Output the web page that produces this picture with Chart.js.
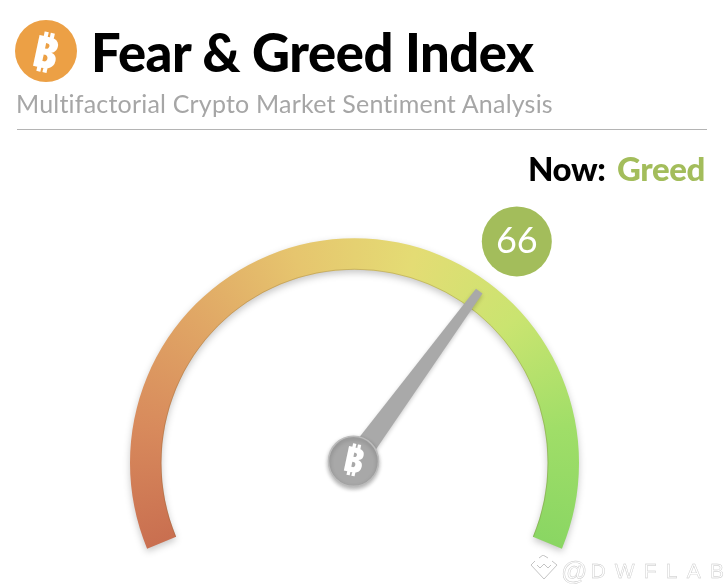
<!DOCTYPE html>
<html>
<head>
<meta charset="utf-8">
<title>Fear & Greed Index</title>
<script src="https://cdn.jsdelivr.net/npm/chart.js@4/dist/chart.umd.min.js"></script>
<style>
  html, body { margin: 0; padding: 0; background: #fff; }
  #page { position: relative; width: 726px; height: 588px; overflow: hidden; font-family: Lato, sans-serif; }
  #page canvas { position: absolute; left: 0; top: 0; }
  .txt { position: absolute; white-space: nowrap; line-height: 1; }
  #logo { position: absolute; left: 15px; top: 20px; width: 62px; height: 62px; border-radius: 50%; background: #eca045; }
  #logoB { position: absolute; left: 0; top: 0; width: 62px; height: 62px; line-height: 62px; text-align: center;
           color: #fff; font: 900 44px/62px "Noto Sans", sans-serif; transform: rotate(12deg); }
  #title { left: 91px; top: 26px; font-size: 52.5px; font-weight: 900; color: #000; letter-spacing: -0.45px; }
  #subtitle { left: 16px; top: 91px; font-size: 25px; color: #a6a6a6; letter-spacing: 0.2px; }
  #rule { position: absolute; left: 17px; top: 129px; width: 690px; height: 1px; background: #b4b4b4; }
  #now { left: 528px; top: 152px; font-size: 33px; font-weight: 900; color: #000; letter-spacing: -0.4px; }
  #state { left: 617px; top: 152px; font-size: 33px; font-weight: 900; color: #a3bd5b; letter-spacing: -0.4px; }
  #mark { left: 561px; top: 556px; font: 21px "Liberation Sans", sans-serif; color: #fff; letter-spacing: 9.2px;
          -webkit-text-stroke: 0.4px #c4c4c4; }
  #mark span { font-size: 26px; letter-spacing: 3px; vertical-align: -2px; }
  #markIcon { position: absolute; left: 530px; top: 555px; }
</style>
</head>
<body>
<div id="page">
  <canvas id="gauge" width="726" height="588"></canvas>
  <div id="logo"><div id="logoB">₿</div></div>
  <div class="txt" id="title">Fear &amp; Greed Index</div>
  <div class="txt" id="subtitle">Multifactorial Crypto Market Sentiment Analysis</div>
  <div id="rule"></div>
  <div class="txt" id="now">Now:</div>
  <div class="txt" id="state">Greed</div>
  <svg id="markIcon" width="28" height="26" fill="none" stroke="#c4c4c4" stroke-width="1">
    <path d="M1 10 L5 6 M9 3 L13 0 L18 3 M22 6 L27 10 L14 24 L1 10"/>
    <path d="M7 10 L10 13 L14 9 L18 13 L21 10"/>
  </svg>
  <div class="txt" id="mark"><span>@</span>DWFLAB</div>
</div>
<script>
var scaleRange = [100];
var indexValues = [66, 34];
var nowState = 'Greed';

// colours round the band, from the red end to the green end
var bandColors = ['#c96f50', '#d88a5c', '#e0a665', '#e6c56e', '#e4dc74', '#cae470', '#a0de68', '#8ad663'];

var START_DEG = -112.5;
var SWEEP_DEG = 225;

function toRad(d) { return d * Math.PI / 180; }

// the band is one arc, filled with a conic gradient and a soft shadow
var bandPaint = {
    id: 'bandPaint',
    beforeDatasetsDraw: function(chart) {
        var arc = chart.getDatasetMeta(0).data[0];
        var ctx = chart.ctx;
        var start = toRad(START_DEG - 90);
        var grad = ctx.createConicGradient(start, arc.x, arc.y);
        bandColors.forEach(function(c, i) {
            grad.addColorStop(i / (bandColors.length - 1) * SWEEP_DEG / 360, c);
        });
        grad.addColorStop(SWEEP_DEG / 360 + 0.001, bandColors[0]);
        arc.options.backgroundColor = grad;
        ctx.shadowColor = 'rgba(0,0,0,0.22)';
        ctx.shadowBlur = 7;
        ctx.shadowOffsetY = 3;
    },
    afterDatasetsDraw: function(chart) {
        var ctx = chart.ctx;
        ctx.shadowColor = 'transparent';
        ctx.shadowBlur = 0;
        ctx.shadowOffsetY = 0;

        var band = chart.getDatasetMeta(0).data[0];
        var value = chart.getDatasetMeta(1).data[0];
        var a = value.endAngle;
        var ux = Math.cos(a), uy = Math.sin(a);
        var px = -uy, py = ux;
        var x = band.x, y = band.y;
        var R = band.outerRadius;

        // inner edge of the band
        ctx.lineWidth = 1;
        ctx.strokeStyle = 'rgba(120,90,40,0.25)';
        ctx.beginPath();
        ctx.arc(x, y, band.innerRadius + 0.5, band.startAngle, band.endAngle);
        ctx.stroke();

        // needle
        var tip = R * 0.945;
        var hubY = y - 1.5;
        ctx.save();
        ctx.shadowColor = 'rgba(0,0,0,0.2)';
        ctx.shadowBlur = 4;
        ctx.shadowOffsetY = 2;
        ctx.fillStyle = '#a9a9a9';
        ctx.beginPath();
        ctx.moveTo(x + px * 11, hubY + py * 11);
        ctx.lineTo(x + ux * tip + px * 4, y + uy * tip + py * 4);
        ctx.lineTo(x + ux * tip - px * 4, y + uy * tip - py * 4);
        ctx.lineTo(x - px * 11, hubY - py * 11);
        ctx.closePath();
        ctx.fill();
        ctx.restore();

        // hub
        ctx.save();
        ctx.shadowColor = 'rgba(0,0,0,0.3)';
        ctx.shadowBlur = 4;
        ctx.shadowOffsetY = 2;
        ctx.fillStyle = '#a8a8a8';
        ctx.strokeStyle = '#bcbcbc';
        ctx.lineWidth = 1.5;
        ctx.beginPath();
        ctx.arc(x - 1, hubY, 25, 0, Math.PI * 2);
        ctx.fill();
        ctx.stroke();
        ctx.restore();
        ctx.save();
        ctx.translate(x - 1, hubY);
        ctx.rotate(toRad(12));
        ctx.fillStyle = '#fff';
        ctx.font = '900 35px "Noto Sans", sans-serif';
        ctx.textAlign = 'center';
        ctx.textBaseline = 'middle';
        ctx.fillText('₿', 0, 1);
        ctx.restore();

        // value bubble, out along the needle
        var bx = x + ux * R * 1.23, by = y + uy * R * 1.23 + 2;
        ctx.fillStyle = '#a3bd5b';
        ctx.beginPath();
        ctx.arc(bx, by, 35, 0, Math.PI * 2);
        ctx.fill();
        ctx.fillStyle = '#fff';
        ctx.font = '36px Lato, sans-serif';
        ctx.textAlign = 'center';
        ctx.textBaseline = 'middle';
        ctx.fillText(String(indexValues[0]), bx, by);
    }
};

document.getElementById('state').textContent = nowState;

var gaugeChart = new Chart(document.getElementById('gauge').getContext('2d'), {
    type: 'doughnut',
    data: {
        labels: ['Index', 'Rest'],
        datasets: [
            { data: scaleRange, backgroundColor: '#e2dc74', borderWidth: 0, weight: 1 },
            // carries the value, invisible; its arc end gives the needle angle
            { data: indexValues, backgroundColor: 'rgba(0,0,0,0)', borderWidth: 0, weight: 0 }
        ]
    },
    options: {
        responsive: false,
        animation: false,
        rotation: START_DEG,
        circumference: SWEEP_DEG,
        cutout: '86%',
        layout: { padding: { left: 130, right: 147, top: 237, bottom: 38 } },
        plugins: { legend: { display: false }, tooltip: { enabled: false } }
    },
    plugins: [bandPaint]
});
</script>
</body>
</html>
